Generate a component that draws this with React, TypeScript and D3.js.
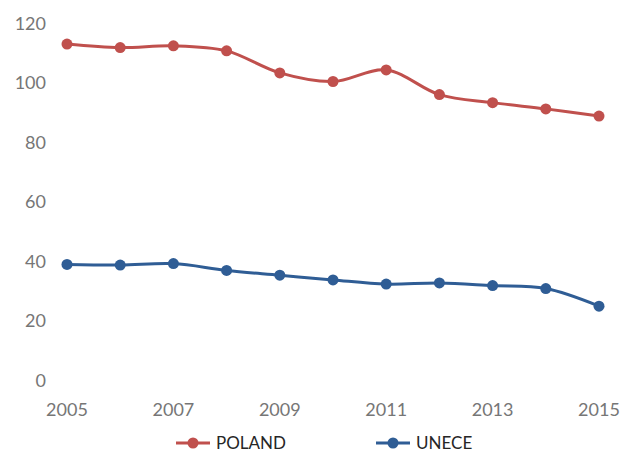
import React from "react";
import * as d3 from "d3";

const years = [2005, 2006, 2007, 2008, 2009, 2010, 2011, 2012, 2013, 2014, 2015];
const poland = [113.1, 111.9, 112.5, 110.8, 103.4, 100.5, 104.4, 96.1, 93.4, 91.3, 88.9];
const unece = [39.0, 38.8, 39.3, 37.0, 35.4, 33.8, 32.4, 32.8, 31.9, 30.9, 25.0];
const yTicks = [0, 20, 40, 60, 80, 100, 120];
const xTicks = [2005, 2007, 2009, 2011, 2013, 2015];
const seriesNames = ["POLAND", "UNECE"];

const W = 621;
const H = 453;
const RED = "#C0504D";
const BLUE = "#2F5D95";
const FONT = "Lato, 'Open Sans', sans-serif";

export default function App() {
  const x = d3.scaleLinear().domain([2005, 2015]).range([67, 599]);
  const y = d3.scaleLinear().domain([0, 120]).range([380.5, 23.5]);
  const line = d3
    .line<number>()
    .x((_, i) => x(years[i]))
    .y((d) => y(d))
    .curve(d3.curveCatmullRom.alpha(0.5));
  const series = [
    { name: seriesNames[0], data: poland, color: RED },
    { name: seriesNames[1], data: unece, color: BLUE },
  ];
  const legendX = [176, 376];
  return (
    <svg width={W} height={H} style={{ position: "absolute", left: 0, top: 0 }}>
      <rect width={W} height={H} fill="#fff" />
      {yTicks.map((t) => (
        <text
          key={t}
          x={46}
          y={y(t)}
          dy="0.35em"
          textAnchor="end"
          fontFamily={FONT}
          fontSize={18}
          fill="#767676"
        >
          {t}
        </text>
      ))}
      {xTicks.map((t) => (
        <text
          key={t}
          x={x(t)}
          y={410}
          dy="0.35em"
          textAnchor="middle"
          fontFamily={FONT}
          fontSize={18}
          fill="#767676"
        >
          {t}
        </text>
      ))}
      {series.map((s) => (
        <g key={s.name}>
          <path d={line(s.data) || ""} fill="none" stroke={s.color} strokeWidth={3} />
          {s.data.map((v, i) => (
            <circle key={i} cx={x(years[i])} cy={y(v)} r={5.5} fill={s.color} />
          ))}
        </g>
      ))}
      {series.map((s, i) => (
        <g key={"lg" + s.name} transform={`translate(${legendX[i]},443)`}>
          <line x1={0} x2={34} y1={0} y2={0} stroke={s.color} strokeWidth={3} />
          <circle cx={17} cy={0} r={5.5} fill={s.color} />
          <text x={40} y={0} dy="0.35em" fontFamily={FONT} fontSize={17} fill="#262626">
            {s.name}
          </text>
        </g>
      ))}
    </svg>
  );
}
